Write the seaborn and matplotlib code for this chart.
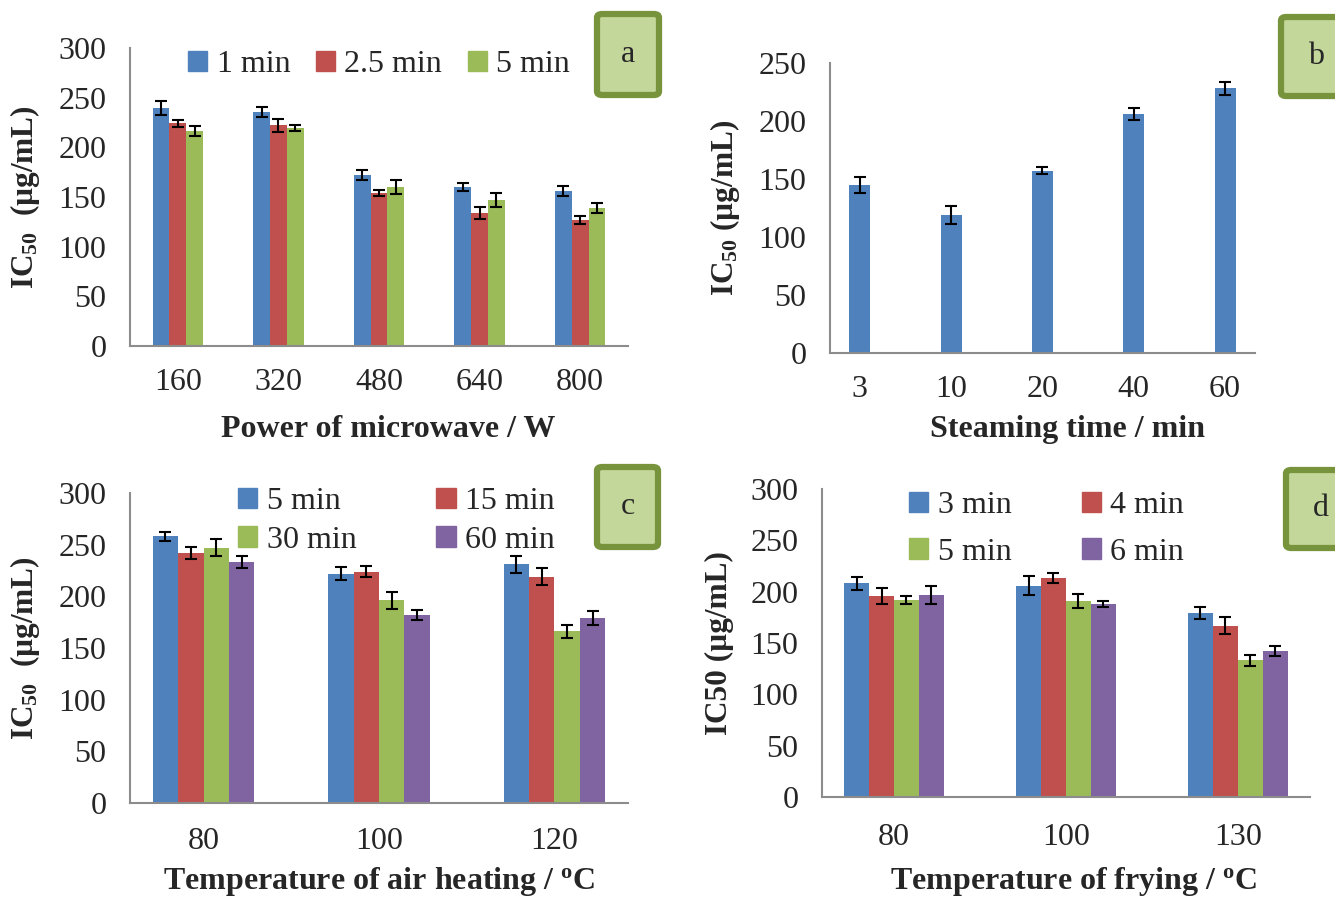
import matplotlib
matplotlib.use("Agg")
import matplotlib.pyplot as plt
import seaborn as sns
import pandas as pd
from matplotlib.patches import Patch, FancyBboxPatch

# panel a: microwave
power = ["160", "320", "480", "640", "800"]
mw_times = ["1 min", "2.5 min", "5 min"]
mw_vals = [[240, 236, 172, 160, 156],
           [224, 222, 154, 134, 127],
           [216, 219, 160, 147, 139]]
mw_err = [[7, 5, 5, 4, 5],
          [4, 7, 3, 6, 4],
          [5, 3, 7, 7, 5]]

# panel b: steaming
steam_t = ["3", "10", "20", "40", "60"]
steam_vals = [145, 119, 157, 206, 228]
steam_err = [7, 8, 3, 5, 6]

# panel c: air heating
air_temp = ["80", "100", "120"]
air_times = ["5 min", "15 min", "30 min", "60 min"]
air_vals = [[258, 222, 231],
            [242, 224, 219],
            [247, 196, 166],
            [233, 182, 179]]
air_err = [[4, 6, 8],
           [6, 5, 8],
           [8, 8, 6],
           [6, 5, 7]]

# panel d: frying
fry_temp = ["80", "100", "130"]
fry_times = ["3 min", "4 min", "5 min", "6 min"]
fry_vals = [[208, 206, 179],
            [196, 213, 167],
            [192, 191, 133],
            [197, 188, 142]]
fry_err = [[6, 9, 6],
           [8, 5, 8],
           [4, 7, 5],
           [9, 3, 5]]

colors = ["#4F81BD", "#C0504D", "#9BBB59", "#8064A2"]

sns.set_style("white")
plt.rcParams['font.family'] = ['Liberation Serif', 'DejaVu Serif']
plt.rcParams['mathtext.fontset'] = 'custom'
plt.rcParams['mathtext.rm'] = 'Liberation Serif'
plt.rcParams['mathtext.bf'] = 'Liberation Serif:bold'
plt.rcParams['mathtext.it'] = 'Liberation Serif:italic'

FS = 23    # ticks / legend
LFS = 23   # axis labels
YFS = 22.5  # y labels


def long_df(cats, groups, vals):
    rows = []
    for g, vv in zip(groups, vals):
        for c, v in zip(cats, vv):
            rows.append({"cat": c, "grp": g, "val": v})
    return pd.DataFrame(rows)


def add_err(ax, errs):
    for cont, ee in zip(ax.containers, errs):
        xs = [p.get_x() + p.get_width() / 2 for p in cont.patches]
        ys = [p.get_height() for p in cont.patches]
        ax.errorbar(xs, ys, yerr=ee, fmt="none", ecolor="black",
                    elinewidth=1.5, capsize=4.5, capthick=1.5, zorder=5)


def style(ax, ymax, xlabel, ylabel, xpad, lpad, lx=0.5):
    ax.set_ylim(0, ymax)
    ax.set_yticks(range(0, ymax + 1, 50))
    for s in ["top", "right"]:
        ax.spines[s].set_visible(False)
    for s in ["left", "bottom"]:
        ax.spines[s].set_color("#8c8c8c")
        ax.spines[s].set_linewidth(1.5)
    ax.tick_params(axis="y", direction="in", length=7, width=1.3,
                   color="#8c8c8c", labelsize=FS, pad=17)
    ax.tick_params(axis="x", length=0, labelsize=FS, pad=xpad)
    ax.set_xlabel(xlabel, fontsize=LFS, fontweight="bold", labelpad=lpad, x=lx)
    ax.set_ylabel(ylabel, fontsize=YFS, fontweight="bold", labelpad=12)


def grouped(ax, cats, groups, vals, errs, width):
    df = long_df(cats, groups, vals)
    sns.barplot(data=df, x="cat", y="val", hue="grp", order=cats,
                hue_order=groups, palette=colors[:len(groups)],
                saturation=1, width=width, linewidth=0, legend=False,
                errorbar=None, ax=ax)
    add_err(ax, errs)


def label_box(fig, x0, y0, w, h, letter):
    W, H = 1335, 897
    box = FancyBboxPatch((x0 / W, 1 - (y0 + h) / H), w / W, h / H,
                         boxstyle="round,pad=0,rounding_size=0.004",
                         transform=fig.transFigure, facecolor="#C4D79B",
                         edgecolor="#77933C", linewidth=4.5, clip_on=False)
    fig.patches.append(box)
    fig.text((x0 + w / 2) / W, 1 - (y0 + h / 2) / H, letter, fontsize=FS,
             ha="center", va="center")


fig = plt.figure(figsize=(13.35, 8.97), dpi=100)
axa = fig.add_axes([0.0974, 0.6143, 0.3730, 0.3322])
axb = fig.add_axes([0.6217, 0.6065, 0.3183, 0.3233])
axc = fig.add_axes([0.0974, 0.1048, 0.3730, 0.3456])
axd = fig.add_axes([0.6157, 0.1115, 0.3655, 0.3433])

# a
grouped(axa, power, mw_times, mw_vals, mw_err, 0.5)
style(axa, 300, "Power of microwave / W", r"IC$_{\mathbf{50}}$  (µg/mL)",
      16, 13, lx=0.518)
hs = [Patch(color=c) for c in colors[:3]]
axa.legend(hs, mw_times, loc="center", bbox_to_anchor=(0.5, 0.943), ncol=3,
           frameon=False, fontsize=FS, handlelength=0.6, handleheight=0.6,
           handletextpad=0.3, columnspacing=0.8, borderaxespad=0)

# b
dfb = pd.DataFrame({"t": steam_t, "v": steam_vals})
sns.barplot(data=dfb, x="t", y="v", order=steam_t, color=colors[0],
            saturation=1, width=0.23, linewidth=0, errorbar=None, ax=axb)
add_err(axb, [steam_err])
style(axb, 250, "Steaming time / min", r"IC$_{\mathbf{50}}$ (µg/mL)",
      16, 8, lx=0.559)

# c
grouped(axc, air_temp, air_times, air_vals, air_err, 0.58)
style(axc, 300, r"Temperature of air heating / $^{\mathbf{o}}$C",
      r"IC$_{\mathbf{50}}$  (µg/mL)", 17, 7)
hs = [Patch(color=c) for c in colors]
order = [0, 2, 1, 3]
axc.legend([hs[i] for i in order], [air_times[i] for i in order],
           loc="center", bbox_to_anchor=(0.535, 0.91), ncol=2,
           frameon=False, fontsize=FS, handlelength=0.6, handleheight=0.6,
           handletextpad=0.3, columnspacing=2.5, labelspacing=0.3,
           borderaxespad=0)

# d
grouped(axd, fry_temp, fry_times, fry_vals, fry_err, 0.58)
style(axd, 300, r"Temperature of frying / $^{\mathbf{o}}$C", "IC50 (µg/mL)",
      19, 9, lx=0.516)
axd.legend([hs[i] for i in order], [fry_times[i] for i in order],
           loc="center", bbox_to_anchor=(0.46, 0.87), ncol=2,
           frameon=False, fontsize=FS, handlelength=0.6, handleheight=0.6,
           handletextpad=0.3, columnspacing=2.2, labelspacing=0.55,
           borderaxespad=0)

label_box(fig, 597, 14, 62, 81, "a")
label_box(fig, 1281, 17, 70, 79, "b")
label_box(fig, 597, 467, 61, 80, "c")
label_box(fig, 1286, 470, 70, 78, "d")

fig.savefig("out.png", dpi=100)
